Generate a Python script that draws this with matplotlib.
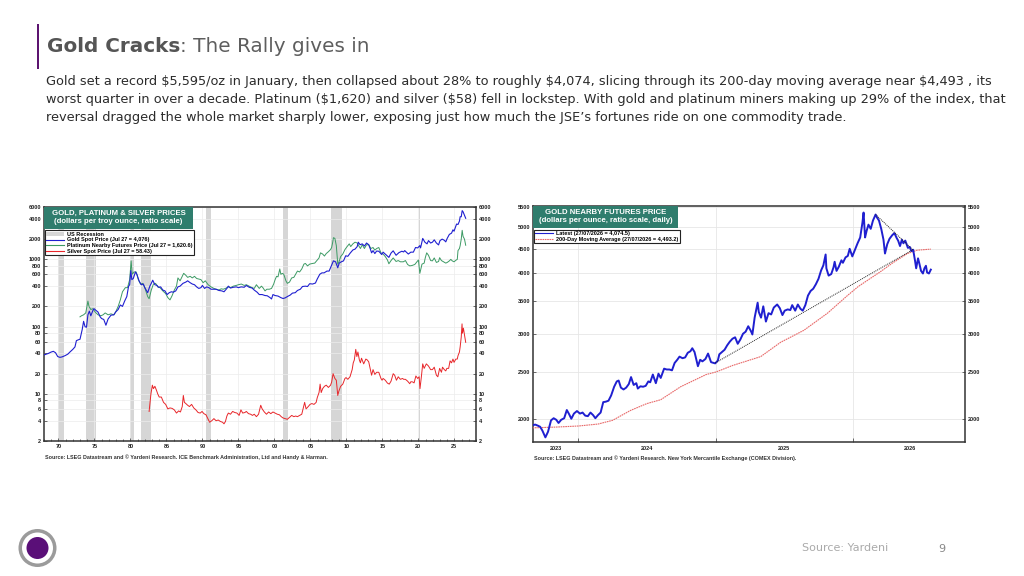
import matplotlib
matplotlib.use('Agg')
from matplotlib import pyplot as plt
from matplotlib.patches import Rectangle, Circle, Patch
from matplotlib.lines import Line2D
import matplotlib.dates as mdates
import matplotlib.ticker as mticker
import numpy as np

W, H = 1024, 576

# ---- left chart: gold, platinum, silver (decimal year, $/oz) ----
gold_t = [1968.0, 1968.3, 1968.6, 1969.0, 1969.3, 1969.6, 1969.9, 1970.2, 1970.5, 1970.9,
          1971.3, 1971.6, 1972.0, 1972.3, 1972.5, 1972.8, 1973.0, 1973.3, 1973.5, 1973.7,
          1973.9, 1974.1, 1974.3, 1974.5, 1974.8, 1974.95, 1975.2, 1975.5, 1975.8, 1976.0,
          1976.3, 1976.6, 1976.9, 1977.3, 1977.7, 1977.95, 1978.3, 1978.6, 1978.9, 1979.2,
          1979.5, 1979.75, 1979.9, 1980.05, 1980.2, 1980.4, 1980.7, 1980.9, 1981.2, 1981.5,
          1981.8, 1982.0, 1982.4, 1982.7, 1982.9, 1983.1, 1983.4, 1983.7, 1983.9, 1984.2,
          1984.5, 1984.8, 1985.1, 1985.4, 1985.7, 1985.95, 1986.3, 1986.6, 1986.9, 1987.3,
          1987.7, 1987.95, 1988.3, 1988.6, 1988.9, 1989.2, 1989.5, 1989.8, 1990.0, 1990.3,
          1990.6, 1990.9, 1991.2, 1991.6, 1991.9, 1992.3, 1992.7, 1993.0, 1993.4, 1993.6,
          1993.9, 1994.3, 1994.7, 1995.0, 1995.4, 1995.8, 1996.1, 1996.5, 1996.9, 1997.2,
          1997.6, 1997.9, 1998.3, 1998.7, 1999.0, 1999.4, 1999.6, 1999.8, 2000.1, 2000.5,
          2000.9, 2001.2, 2001.5, 2001.8, 2002.2, 2002.5, 2002.9, 2003.2, 2003.6, 2003.9,
          2004.3, 2004.6, 2004.9, 2005.3, 2005.7, 2005.95, 2006.3, 2006.6, 2006.9, 2007.3,
          2007.6, 2007.9, 2008.2, 2008.5, 2008.8, 2009.0, 2009.3, 2009.6, 2009.9, 2010.2,
          2010.5, 2010.9, 2011.2, 2011.5, 2011.65, 2011.9, 2012.2, 2012.5, 2012.8, 2013.1,
          2013.3, 2013.5, 2013.7, 2013.95, 2014.2, 2014.5, 2014.9, 2015.1, 2015.5, 2015.9,
          2016.2, 2016.5, 2016.9, 2017.3, 2017.7, 2017.95, 2018.1, 2018.6, 2018.95, 2019.3,
          2019.6, 2019.9, 2020.2, 2020.3, 2020.6, 2020.9, 2021.2, 2021.4, 2021.7, 2021.95,
          2022.2, 2022.5, 2022.8, 2023.0, 2023.3, 2023.6, 2023.8, 2024.0, 2024.3, 2024.6,
          2024.8, 2024.95, 2025.1, 2025.3, 2025.5, 2025.7, 2025.8, 2025.95, 2026.08, 2026.2,
          2026.4, 2026.57]
gold_v = [38, 39, 40, 42, 43, 41, 36, 35, 35.5, 37,
          39, 42, 46, 50, 62, 64, 65, 90, 120, 100,
          98, 150, 170, 145, 175, 185, 175, 165, 140, 132,
          128, 105, 130, 148, 150, 165, 180, 210, 200, 240,
          280, 400, 420, 680, 500, 520, 650, 600, 480, 420,
          430, 380, 320, 400, 440, 490, 420, 410, 385, 390,
          350, 340, 300, 320, 330, 325, 340, 390, 400, 440,
          460, 480, 450, 430, 420, 390, 370, 380, 410, 370,
          390, 380, 360, 360, 360, 345, 340, 330, 370, 400,
          375, 385, 390, 380, 390, 385, 410, 385, 375, 350,
          325, 300, 300, 290, 288, 270, 258, 300, 290, 285,
          270, 262, 268, 280, 295, 315, 320, 345, 360, 395,
          400, 395, 435, 430, 445, 510, 600, 630, 630, 670,
          670, 800, 950, 920, 750, 880, 920, 950, 1130, 1110,
          1230, 1380, 1420, 1550, 1800, 1650, 1700, 1580, 1750, 1650,
          1450, 1250, 1350, 1220, 1330, 1320, 1180, 1280, 1170, 1070,
          1240, 1340, 1150, 1260, 1320, 1290, 1350, 1200, 1280, 1280,
          1500, 1480, 1600, 1480, 2050, 1800, 1700, 1900, 1750, 1800,
          1950, 1750, 1640, 1900, 2000, 1920, 1820, 2050, 2350, 2450,
          2750, 2620, 2900, 3350, 3300, 3700, 4300, 4300, 5300, 5100,
          4500, 4076]

plat_t = [1973.0, 1973.2, 1973.5, 1973.8, 1974.1, 1974.25, 1974.5, 1974.8, 1975.1, 1975.5,
          1975.9, 1976.2, 1976.5, 1976.9, 1977.3, 1977.7, 1977.95, 1978.3, 1978.6, 1978.9,
          1979.3, 1979.6, 1979.9, 1980.1, 1980.25, 1980.5, 1980.8, 1981.1, 1981.4, 1981.7,
          1982.0, 1982.4, 1982.6, 1982.9, 1983.2, 1983.5, 1983.8, 1984.1, 1984.5, 1984.9,
          1985.2, 1985.5, 1985.8, 1986.1, 1986.4, 1986.6, 1986.9, 1987.2, 1987.4, 1987.7,
          1987.95, 1988.3, 1988.6, 1988.9, 1989.2, 1989.5, 1989.8, 1990.1, 1990.4, 1990.8,
          1991.2, 1991.6, 1991.9, 1992.3, 1992.6, 1992.9, 1993.2, 1993.6, 1993.9, 1994.3,
          1994.7, 1995.0, 1995.4, 1995.8, 1996.1, 1996.5, 1996.9, 1997.2, 1997.5, 1997.9,
          1998.2, 1998.4, 1998.7, 1998.95, 1999.3, 1999.6, 1999.9, 2000.1, 2000.3, 2000.5,
          2000.75, 2000.9, 2001.1, 2001.3, 2001.6, 2001.8, 2002.1, 2002.4, 2002.7, 2002.95,
          2003.2, 2003.5, 2003.8, 2004.1, 2004.3, 2004.6, 2004.9, 2005.3, 2005.6, 2005.9,
          2006.2, 2006.4, 2006.7, 2006.95, 2007.2, 2007.5, 2007.8, 2007.95, 2008.1, 2008.2,
          2008.4, 2008.6, 2008.8, 2008.95, 2009.2, 2009.5, 2009.8, 2010.1, 2010.4, 2010.6,
          2010.9, 2011.2, 2011.5, 2011.7, 2011.95, 2012.2, 2012.5, 2012.8, 2013.1, 2013.4,
          2013.7, 2013.95, 2014.2, 2014.5, 2014.8, 2015.1, 2015.4, 2015.7, 2015.9, 2016.2,
          2016.5, 2016.9, 2017.2, 2017.5, 2017.9, 2018.2, 2018.5, 2018.8, 2019.1, 2019.5,
          2019.8, 2020.0, 2020.2, 2020.5, 2020.8, 2020.95, 2021.15, 2021.4, 2021.7, 2021.95,
          2022.2, 2022.5, 2022.8, 2022.95, 2023.2, 2023.5, 2023.8, 2024.0, 2024.3, 2024.5,
          2024.7, 2024.95, 2025.2, 2025.4, 2025.5, 2025.7, 2025.8, 2025.95, 2026.08, 2026.2,
          2026.4, 2026.57]
plat_v = [140, 145, 150, 160, 240, 200, 180, 185, 165, 150,
          145, 150, 160, 150, 155, 150, 165, 200, 250, 330,
          380, 380, 500, 950, 600, 650, 650, 500, 430, 440,
          380, 280, 260, 350, 430, 440, 390, 380, 340, 310,
          270, 250, 290, 350, 400, 530, 480, 560, 620, 580,
          540, 560, 530, 560, 520, 510, 500, 450, 480, 420,
          390, 370, 360, 350, 365, 360, 370, 390, 380, 400,
          410, 420, 430, 410, 420, 400, 380, 370, 420, 370,
          400, 380, 340, 360, 360, 370, 430, 500, 560, 550,
          720, 600, 620, 600, 480, 440, 460, 530, 540, 600,
          670, 650, 720, 850, 870, 800, 850, 870, 880, 960,
          1050, 1250, 1200, 1120, 1220, 1300, 1400, 1500, 1800, 2100,
          2050, 1600, 850, 900, 1100, 1200, 1400, 1550, 1700, 1550,
          1700, 1800, 1750, 1600, 1450, 1650, 1450, 1650, 1650, 1450,
          1500, 1370, 1450, 1500, 1250, 1200, 1100, 980, 860, 960,
          1050, 930, 960, 920, 920, 960, 840, 800, 810, 840,
          920, 980, 620, 850, 880, 1050, 1250, 1150, 960, 950,
          1050, 900, 930, 1060, 960, 920, 880, 900, 950, 1000,
          950, 920, 970, 1000, 1350, 1450, 1600, 2000, 2700, 2200,
          2000, 1620.6]

silv_t = [1982.6, 1982.7, 1982.85, 1983.05, 1983.2, 1983.4, 1983.6, 1983.8, 1984.0, 1984.3,
          1984.6, 1984.9, 1985.2, 1985.5, 1985.8, 1986.1, 1986.4, 1986.7, 1986.95, 1987.2,
          1987.35, 1987.5, 1987.7, 1987.95, 1988.2, 1988.5, 1988.8, 1989.1, 1989.4, 1989.7,
          1989.95, 1990.2, 1990.5, 1990.8, 1991.0, 1991.3, 1991.6, 1991.9, 1992.2, 1992.5,
          1992.8, 1993.0, 1993.2, 1993.4, 1993.6, 1993.9, 1994.2, 1994.5, 1994.8, 1995.1,
          1995.35, 1995.6, 1995.9, 1996.1, 1996.4, 1996.7, 1996.95, 1997.2, 1997.5, 1997.8,
          1998.1, 1998.3, 1998.6, 1998.9, 1999.2, 1999.5, 1999.8, 2000.1, 2000.4, 2000.7,
          2000.95, 2001.2, 2001.5, 2001.8, 2002.1, 2002.4, 2002.7, 2002.95, 2003.2, 2003.5,
          2003.8, 2003.95, 2004.2, 2004.4, 2004.7, 2004.95, 2005.2, 2005.5, 2005.8, 2005.95,
          2006.2, 2006.35, 2006.5, 2006.7, 2006.95, 2007.2, 2007.5, 2007.8, 2007.95, 2008.15,
          2008.4, 2008.6, 2008.8, 2008.95, 2009.2, 2009.5, 2009.8, 2009.95, 2010.2, 2010.5,
          2010.8, 2010.95, 2011.1, 2011.3, 2011.45, 2011.6, 2011.8, 2011.95, 2012.1, 2012.4,
          2012.7, 2012.9, 2013.1, 2013.3, 2013.5, 2013.7, 2013.95, 2014.2, 2014.5, 2014.8,
          2014.95, 2015.1, 2015.4, 2015.7, 2015.95, 2016.2, 2016.5, 2016.7, 2016.95, 2017.2,
          2017.5, 2017.8, 2017.95, 2018.2, 2018.5, 2018.8, 2018.95, 2019.2, 2019.4, 2019.65,
          2019.9, 2020.1, 2020.22, 2020.4, 2020.6, 2020.8, 2020.95, 2021.1, 2021.4, 2021.7,
          2021.95, 2022.2, 2022.5, 2022.7, 2022.95, 2023.2, 2023.35, 2023.6, 2023.8, 2023.95,
          2024.2, 2024.4, 2024.6, 2024.8, 2024.95, 2025.2, 2025.4, 2025.5, 2025.7, 2025.8,
          2025.95, 2026.06, 2026.12, 2026.25, 2026.4, 2026.57]
silv_v = [5.5, 7, 10, 13.5, 12, 13, 11.5, 10, 9, 9,
          7.5, 7, 6, 6.2, 6.1, 5.8, 5.2, 5.6, 5.4, 6.5,
          9.5, 7.5, 7.2, 6.8, 6.5, 7, 6.2, 5.8, 5.3, 5.2,
          5.5, 5.1, 4.9, 4.2, 3.8, 4.0, 4.3, 4.0, 4.1, 3.9,
          3.8, 3.6, 3.9, 4.7, 5.2, 5.0, 5.5, 5.3, 5.2, 4.8,
          5.8, 5.2, 5.3, 5.5, 5.1, 5.0, 4.8, 5.0, 4.6, 5.0,
          6.8, 6.0, 5.4, 5.0, 5.4, 5.1, 5.4, 5.2, 5.0, 4.9,
          4.6, 4.4, 4.3, 4.2, 4.5, 4.8, 4.6, 4.7, 4.6, 4.8,
          5.0, 5.8, 7.5, 6.0, 6.5, 7.0, 7.2, 7.0, 7.5, 8.8,
          10.5, 14, 10.5, 12, 13, 13.5, 12.5, 13.5, 15, 20,
          17, 16, 9.5, 11, 13, 14, 17, 17.5, 16.5, 18,
          23, 29, 32, 46, 36, 42, 32, 29, 34, 28,
          33, 32, 30, 24, 19, 23, 19.5, 21, 21, 17,
          16, 17, 16, 14.5, 14, 15.5, 20, 19, 16, 18,
          16.5, 17, 16.5, 16.5, 15.5, 14.2, 15.2, 15.1, 14.6, 18.5,
          17, 18, 12, 17.5, 28, 24, 26, 28, 26, 23,
          23, 25, 19, 18, 24, 21, 25, 23, 22, 24,
          24, 31, 29, 33, 29.5, 33, 33, 37, 42, 50,
          70, 110, 80, 95, 75, 58.43]

rec_start = [1969.92, 1973.84, 1980.0, 1981.5, 1990.5, 2001.17, 2007.92, 2020.08]
rec_end = [1970.84, 1975.17, 1980.5, 1982.84, 1991.17, 2001.84, 2009.42, 2020.25]

left_yticks = [2, 4, 6, 8, 10, 20, 40, 60, 80, 100, 200, 400, 600, 800, 1000, 2000, 4000, 6000]
left_xticks = [1970, 1975, 1980, 1985, 1990, 1995, 2000, 2005, 2010, 2015, 2020, 2025]
left_xlabels = ['70', '75', '80', '85', '90', '95', '00', '05', '10', '15', '20', '25']

# ---- right chart: gold nearby futures, daily ----
fut_dates = ['2023-09-01', '2023-09-08', '2023-09-15', '2023-09-21', '2023-09-27', '2023-10-05',
             '2023-10-12', '2023-10-20', '2023-10-27', '2023-11-03', '2023-11-09', '2023-11-16',
             '2023-11-24', '2023-12-01', '2023-12-07', '2023-12-13', '2023-12-20', '2023-12-28',
             '2024-01-05', '2024-01-12', '2024-01-19', '2024-01-26', '2024-02-02', '2024-02-09',
             '2024-02-15', '2024-02-22', '2024-02-29', '2024-03-07', '2024-03-14', '2024-03-21',
             '2024-03-28', '2024-04-05', '2024-04-12', '2024-04-17', '2024-04-23', '2024-04-30',
             '2024-05-07', '2024-05-14', '2024-05-20', '2024-05-27', '2024-06-03', '2024-06-07',
             '2024-06-14', '2024-06-21', '2024-06-28', '2024-07-05', '2024-07-10', '2024-07-17',
             '2024-07-25', '2024-08-01', '2024-08-07', '2024-08-16', '2024-08-23', '2024-08-30',
             '2024-09-06', '2024-09-13', '2024-09-20', '2024-09-26', '2024-10-04', '2024-10-11',
             '2024-10-18', '2024-10-25', '2024-10-30', '2024-11-05', '2024-11-14', '2024-11-20',
             '2024-11-26', '2024-12-04', '2024-12-11', '2024-12-19', '2024-12-30', '2025-01-06',
             '2025-01-10', '2025-01-17', '2025-01-24', '2025-01-31', '2025-02-07', '2025-02-14',
             '2025-02-21', '2025-02-28', '2025-03-07', '2025-03-14', '2025-03-21', '2025-03-28',
             '2025-04-04', '2025-04-08', '2025-04-14', '2025-04-22', '2025-04-25', '2025-05-01',
             '2025-05-07', '2025-05-14', '2025-05-21', '2025-05-28', '2025-06-04', '2025-06-13',
             '2025-06-20', '2025-06-27', '2025-07-03', '2025-07-11', '2025-07-18', '2025-07-23',
             '2025-07-31', '2025-08-07', '2025-08-14', '2025-08-20', '2025-08-27', '2025-09-03',
             '2025-09-10', '2025-09-17', '2025-09-24', '2025-10-01', '2025-10-08', '2025-10-14',
             '2025-10-20', '2025-10-22', '2025-10-28', '2025-11-04', '2025-11-10', '2025-11-13',
             '2025-11-18', '2025-11-24', '2025-12-01', '2025-12-05', '2025-12-12', '2025-12-18',
             '2025-12-23', '2025-12-30', '2026-01-06', '2026-01-13', '2026-01-20', '2026-01-26',
             '2026-01-29', '2026-02-02', '2026-02-06', '2026-02-11', '2026-02-17', '2026-02-23',
             '2026-03-02', '2026-03-06', '2026-03-11', '2026-03-17', '2026-03-23', '2026-03-27',
             '2026-04-02', '2026-04-08', '2026-04-15', '2026-04-21', '2026-04-27', '2026-05-01',
             '2026-05-06', '2026-05-11', '2026-05-15', '2026-05-20', '2026-05-27', '2026-06-01',
             '2026-06-05', '2026-06-10', '2026-06-15', '2026-06-18', '2026-06-23', '2026-06-26',
             '2026-07-01', '2026-07-06', '2026-07-10', '2026-07-14', '2026-07-17', '2026-07-22',
             '2026-07-27']
fut_vals = [1940, 1945, 1935, 1925, 1890, 1830,
            1880, 1985, 2005, 1990, 1960, 1990,
            2005, 2085, 2045, 2000, 2050, 2075,
            2050, 2060, 2030, 2025, 2060, 2035,
            2005, 2035, 2060, 2165, 2170, 2180,
            2235, 2330, 2390, 2400, 2320, 2300,
            2320, 2360, 2440, 2350, 2370, 2310,
            2335, 2330, 2340, 2390, 2380, 2470,
            2370, 2480, 2430, 2540, 2530, 2530,
            2520, 2610, 2650, 2690, 2670, 2680,
            2740, 2760, 2800, 2750, 2570, 2650,
            2630, 2660, 2730, 2620, 2605, 2640,
            2720, 2750, 2780, 2840, 2890, 2930,
            2950, 2860, 2920, 3000, 3030, 3110,
            3040, 2990, 3240, 3480, 3330, 3240,
            3420, 3180, 3310, 3290, 3400, 3450,
            3390, 3280, 3350, 3370, 3360, 3440,
            3350, 3450, 3380, 3350, 3440, 3600,
            3680, 3720, 3800, 3900, 4060, 4160,
            4380, 4100, 3960, 3990, 4120, 4230,
            4050, 4130, 4260, 4210, 4320, 4350,
            4500, 4340, 4480, 4620, 4750, 5100,
            5350, 4750, 4900, 5050, 4950, 5150,
            5300, 5220, 5150, 4950, 4700, 4400,
            4600, 4720, 4800, 4850, 4740, 4680,
            4560, 4700, 4620, 4680, 4520, 4540,
            4450, 4480, 4250, 4100, 4300, 4210,
            4050, 4000, 4100, 4150, 4020, 4000,
            4074.5]

ma_dates = ['2023-09-01', '2023-11-01', '2024-01-01', '2024-02-22', '2024-04-01', '2024-05-18',
            '2024-07-01', '2024-08-07', '2024-09-29', '2024-12-06', '2025-01-01', '2025-02-15',
            '2025-04-30', '2025-06-22', '2025-08-23', '2025-10-25', '2025-12-17', '2026-01-15',
            '2026-03-14', '2026-04-15', '2026-05-26', '2026-06-20', '2026-07-27']
ma_vals = [1915, 1922, 1932, 1950, 1985, 2080,
           2150, 2190, 2330, 2470, 2500, 2580,
           2690, 2880, 3050, 3310, 3600, 3760,
           4030, 4200, 4400, 4470, 4493.2]

trend_dates = ['2024-12-30', '2026-06-09', '2026-03-02']
trend_vals = [2610, 4480, 5300]

right_yticks = [2000, 2500, 3000, 3500, 4000, 4500, 5000, 5500]
year_starts = ['2024-01-01', '2025-01-01', '2026-01-01']
year_mids = ['2023-11-01', '2024-07-01', '2025-07-01', '2026-06-01']
year_labels = ['2023', '2024', '2025', '2026']

BLUE = '#1f1fd0'
GREEN = '#3c9a64'
RED = '#e8262a'
TEAL = '#2f7d6d'
PURPLE = '#5c1470'
TXT = '#222222'
CH = 'Liberation Sans'
SLIDE = 'DejaVu Sans'


def px_axes(fig, x0, y0, x1, y1):
    return fig.add_axes([x0 / W, 1 - y1 / H, (x1 - x0) / W, (y1 - y0) / H])


def style_axes(ax):
    for s in ax.spines.values():
        s.set_color('#333333')
        s.set_linewidth(1.1)
    ax.tick_params(which='both', direction='in', colors='#333333', labelcolor=TXT,
                   labelsize=4, pad=2, width=0.5, right=True, labelright=True)
    ax.tick_params(which='major', length=2.5)
    ax.tick_params(which='minor', length=1.5)
    for lab in ax.get_xticklabels(which='both') + ax.get_yticklabels():
        lab.set_fontfamily(CH)
        lab.set_fontweight('bold')


def title_box(ax, w, lines):
    ax.add_patch(Rectangle((0.0, 0.905), w, 0.095, transform=ax.transAxes,
                           facecolor=TEAL, edgecolor='none', zorder=6))
    ax.text(w / 2, 0.955, lines, transform=ax.transAxes, ha='center', va='center',
            color='white', fontsize=5.6, fontweight='bold', family=CH,
            linespacing=1.35, zorder=7)


fig = plt.figure(figsize=(W / 100, H / 100), dpi=100)
fig.patch.set_facecolor('white')

bg = fig.add_axes([0, 0, 1, 1])
bg.set_xlim(0, W)
bg.set_ylim(H, 0)
bg.axis('off')

# ---- slide header ----
bg.add_patch(Rectangle((36.5, 24), 2.5, 45, facecolor=PURPLE, edgecolor='none'))

body = ['Gold set a record $5,595/oz in January, then collapsed about 28% to roughly $4,074, '
        'slicing through its 200-day moving average near $4,493 , its',
        'worst quarter in over a decade. Platinum ($1,620) and silver ($58) fell in lockstep. '
        'With gold and platinum miners making up 29% of the index, that',
        'reversal dragged the whole market sharply lower, exposing just how much the '
        'JSE\u2019s fortunes ride on one commodity trade.']
body_y = [81, 99.5, 118]

# size the text so the longest line spans the same width as on the slide
probes = [bg.text(0, 0, b, fontsize=10, family=SLIDE, parse_math=False) for b in body[:2]]
t1 = bg.text(47, 47, 'Gold Cracks', fontsize=10, fontweight='bold', color='#555555',
             family=SLIDE, va='center')
t2 = bg.text(0, 47, ': The Rally gives in', fontsize=10, color='#5e5e5e',
             family=SLIDE, va='center')
fig.canvas.draw()
r = fig.canvas.get_renderer()
body_size = 10 * 951 / max(p.get_window_extent(r).width for p in probes)
title_w = t1.get_window_extent(r).width + t2.get_window_extent(r).width
title_size = 10 * 322 / title_w
for p in probes:
    p.remove()
t1.set_fontsize(title_size)
t2.set_fontsize(title_size)
fig.canvas.draw()
t2.set_x(t1.get_window_extent(r).x1)

for line, y in zip(body, body_y):
    bg.text(46, y, line, fontsize=body_size, color='#2b2b2b', family=SLIDE, va='center',
            parse_math=False)

# ---- footer ----
bg.add_patch(Circle((37.5, 548), 19, facecolor='#9b9b9b', edgecolor='none'))
bg.add_patch(Circle((37.5, 548), 15.5, facecolor='white', edgecolor='none'))
bg.add_patch(Circle((37.5, 548), 11, facecolor='#5a0f78', edgecolor='none'))
bg.text(802, 548, 'Source: Yardeni', fontsize=8, color='#aaaaaa', family=SLIDE,
        va='center')
bg.text(938, 549, '9', fontsize=8, color='#888888', family=SLIDE, va='center')

# ---- left chart ----
ax1 = px_axes(fig, 44, 207, 476, 441)
ax1.set_yscale('log')
ax1.set_xlim(1968, 2028)
ax1.set_ylim(2, 6000)
for s, e in zip(rec_start, rec_end):
    ax1.axvspan(s, e, color='#d6d6d6', lw=0, zorder=1)
ax1.grid(True, which='major', color='#ececec', lw=0.5, zorder=0)
ax1.plot(plat_t, plat_v, color=GREEN, lw=0.7, zorder=3)
ax1.plot(gold_t, gold_v, color=BLUE, lw=0.8, zorder=4)
ax1.plot(silv_t, silv_v, color=RED, lw=0.7, zorder=3)
ax1.yaxis.set_major_locator(mticker.FixedLocator(left_yticks))
ax1.yaxis.set_major_formatter(mticker.FixedFormatter([str(v) for v in left_yticks]))
ax1.yaxis.set_minor_locator(mticker.NullLocator())
ax1.set_xticks(left_xticks)
ax1.set_xticklabels(left_xlabels)
ax1.xaxis.set_minor_locator(mticker.MultipleLocator(1))
style_axes(ax1)
title_box(ax1, 0.345, 'GOLD, PLATINUM & SILVER PRICES\n(dollars per troy ounce, ratio scale)')
h1 = [Patch(facecolor='#d6d6d6', edgecolor='none'),
      Line2D([], [], color=BLUE, lw=0.8),
      Line2D([], [], color=GREEN, lw=0.8),
      Line2D([], [], color=RED, lw=0.8)]
l1 = ['US Recession', 'Gold Spot Price (Jul 27 = 4,076)',
      'Platinum Nearby Futures Price (Jul 27 = 1,620.6)',
      'Silver Spot Price (Jul 27 = 58.43)']
leg = ax1.legend(h1, l1, loc='upper left', bbox_to_anchor=(0.002, 0.9),
                 frameon=True, fancybox=False, edgecolor='#222222', framealpha=1,
                 borderpad=0.25, labelspacing=0.12, handlelength=3.2, handleheight=0.6,
                 handletextpad=0.6, borderaxespad=0,
                 prop={'family': CH, 'weight': 'bold', 'size': 4})
leg.get_frame().set_linewidth(0.8)
leg.set_zorder(8)
bg.text(45, 457, 'Source: LSEG Datastream and \u00a9 Yardeni Research. ICE Benchmark '
        'Administration, Ltd and Handy & Harman.', fontsize=3.9, fontweight='bold',
        color='#333333', family=CH, va='center')

# ---- right chart ----
fd = np.array(fut_dates, dtype='datetime64[D]')
md = np.array(ma_dates, dtype='datetime64[D]')
td = np.array(trend_dates, dtype='datetime64[D]')
ax2 = px_axes(fig, 533, 206, 965, 442)
ax2.set_yscale('log')
ax2.set_xlim(np.datetime64('2023-09-02'), np.datetime64('2026-10-26'))
ax2.set_ylim(1790, 5520)
ax2.grid(True, which='major', color='#e6e6e6', lw=0.6, zorder=0)
ax2.plot(md, ma_vals, color='#e86a6a', lw=0.8, ls=(0, (1.5, 0.6)), zorder=3)
ax2.plot(fd, fut_vals, color=BLUE, lw=1.4, zorder=4)
ax2.plot(td[:2], trend_vals[:2], color='#222222', lw=0.7, ls=(0, (1, 1)), zorder=5)
ax2.plot(td[1:], trend_vals[1:], color='#222222', lw=0.7, ls=(0, (1, 1)), zorder=5)
ax2.yaxis.set_major_locator(mticker.FixedLocator(right_yticks))
ax2.yaxis.set_major_formatter(mticker.FixedFormatter([str(v) for v in right_yticks]))
ax2.yaxis.set_minor_locator(mticker.NullLocator())
ax2.xaxis.set_major_locator(mticker.FixedLocator(
    mdates.date2num(np.array(year_starts, dtype='datetime64[D]'))))
ax2.xaxis.set_major_formatter(mticker.NullFormatter())
ax2.xaxis.set_minor_locator(mticker.FixedLocator(
    mdates.date2num(np.array(year_mids, dtype='datetime64[D]'))))
ax2.xaxis.set_minor_formatter(mticker.FixedFormatter(year_labels))
style_axes(ax2)
ax2.tick_params(axis='x', which='minor', length=0, pad=3)
ax2.tick_params(axis='x', which='major', length=3)
title_box(ax2, 0.335, 'GOLD NEARBY FUTURES PRICE\n(dollars per ounce, ratio scale, daily)')
h2 = [Line2D([], [], color=BLUE, lw=0.8),
      Line2D([], [], color='#e86a6a', lw=0.8, ls=(0, (1.5, 0.6)))]
l2 = ['Latest (27/07/2026 = 4,074.5)', '200-Day Moving Average (27/07/2026 = 4,493.2)']
leg2 = ax2.legend(h2, l2, loc='upper left', bbox_to_anchor=(0.002, 0.9),
                  frameon=True, fancybox=False, edgecolor='#222222', framealpha=1,
                  borderpad=0.25, labelspacing=0.12, handlelength=3.2,
                  handletextpad=0.6, borderaxespad=0,
                  prop={'family': CH, 'weight': 'bold', 'size': 4})
leg2.get_frame().set_linewidth(0.8)
leg2.set_zorder(8)
bg.text(534, 458, 'Source: LSEG Datastream and \u00a9 Yardeni Research. New York Mercantile '
        'Exchange (COMEX Division).', fontsize=3.9, fontweight='bold',
        color='#333333', family=CH, va='center')

fig.savefig('out.png', dpi=100, facecolor='white')
